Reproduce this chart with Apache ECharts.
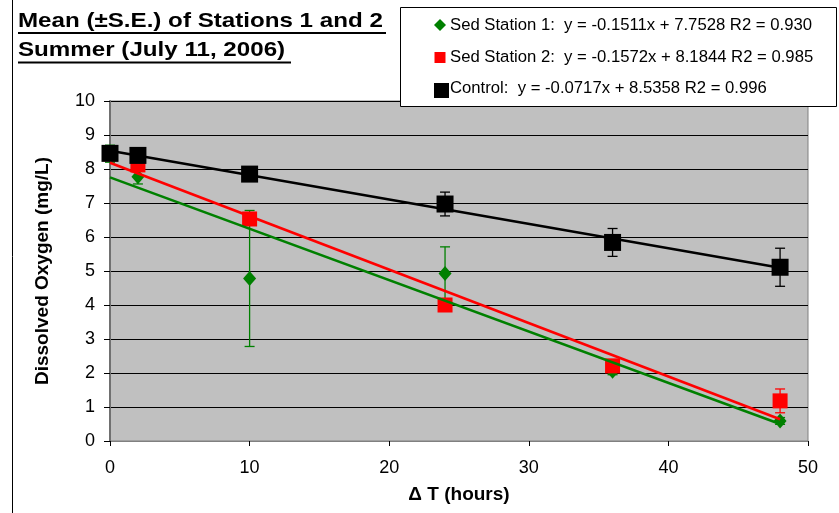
<!DOCTYPE html>
<html>
<head>
<meta charset="utf-8">
<script src="https://cdn.jsdelivr.net/npm/echarts@6/dist/echarts.min.js"></script>
<style>
  html, body { margin: 0; padding: 0; background: #fff; }
  #chart { width: 839px; height: 513px; }
</style>
</head>
<body>
<div id="chart"></div>
<script>
// Sampling times (hours after start)
const hours = [0, 2, 10, 24, 36, 48];

// Dissolved oxygen means (mg/L) and standard errors
const station1Mean = [8.45, 7.77, 4.78, 4.93, 2.05, 0.59];
const station1SE   = [0.25, 0.21, 2.00, 0.78, 0.10, 0.10];
const station2Mean = [8.45, 8.12, 6.53, 4.00, 2.21, 1.18];
const station2SE   = [0.10, 0.10, 0.15, 0.15, 0.10, 0.35];
const controlMean  = [8.46, 8.40, 7.85, 6.97, 5.84, 5.11];
const controlSE    = [0.05, 0.10, 0.10, 0.35, 0.41, 0.56];

// Linear fits: y = slope * x + intercept
const seriesNames    = ['Sed Station 1', 'Sed Station 2', 'Control'];
const fitSlope       = [-0.1511, -0.1572, -0.0717];
const fitIntercept   = [7.7528, 8.1844, 8.5358];
const fitR2          = ['0.930', '0.985', '0.996'];
const fitRange       = [0, 48];

// Axis ticks
const xTicks = { min: 0, max: 50, step: 10 };
const yTicks = { min: 0, max: 10, step: 1 };

const titleLines = ['Mean (\u00B1S.E.) of Stations 1 and 2', 'Summer (July 11, 2006)'];

const FONT = '"Liberation Sans", Arial, sans-serif';
const colors = ['#008000', '#FF0000', '#000000'];

function errorBars(means, se, color) {
  return {
    type: 'custom',
    silent: true,
    data: hours.map((h, i) => [h, means[i] - se[i], means[i] + se[i]]),
    encode: { x: 0, y: [1, 2] },
    renderItem(params, api) {
      const x = api.value(0);
      const lo = api.coord([x, api.value(1)]);
      const hi = api.coord([x, api.value(2)]);
      const w = 5;
      const st = { stroke: color, lineWidth: 1.3 };
      return {
        type: 'group',
        children: [
          { type: 'line', shape: { x1: lo[0], y1: lo[1], x2: hi[0], y2: hi[1] }, style: st },
          { type: 'line', shape: { x1: lo[0] - w, y1: lo[1], x2: lo[0] + w, y2: lo[1] }, style: st },
          { type: 'line', shape: { x1: hi[0] - w, y1: hi[1], x2: hi[0] + w, y2: hi[1] }, style: st }
        ]
      };
    }
  };
}

function markers(name, means, symbol, size, color) {
  return {
    type: 'scatter',
    name: name,
    symbol: symbol,
    symbolSize: size,
    itemStyle: { color: color, opacity: 1 },
    data: hours.map((h, i) => [h, means[i]]),
    silent: true
  };
}

function fitLine(k) {
  return {
    type: 'line',
    symbol: 'none',
    silent: true,
    lineStyle: { color: colors[k], width: 2.6 },
    data: fitRange.map(x => [x, fitSlope[k] * x + fitIntercept[k]])
  };
}

function legendText(k) {
  const m = fitSlope[k].toFixed(4);
  const b = fitIntercept[k].toFixed(4);
  return seriesNames[k] + ':  y = ' + m + 'x + ' + b + ' R2 = ' + fitR2[k];
}

const chart = echarts.init(document.getElementById('chart'), null, { renderer: 'canvas' });

chart.setOption({
  animation: false,
  backgroundColor: '#ffffff',
  grid: {
    left: 110, right: 31, top: 101, bottom: 72,
    show: true, backgroundColor: '#C0C0C0', borderColor: '#808080', borderWidth: 1
  },
  xAxis: {
    type: 'value',
    min: xTicks.min, max: xTicks.max, interval: xTicks.step,
    axisLine: { show: true, onZero: false, lineStyle: { color: '#808080', width: 1 } },
    axisTick: { show: true, length: 5, lineStyle: { color: '#000' } },
    axisLabel: { color: '#000', fontSize: 18, fontFamily: FONT, margin: 18 },
    splitLine: { show: false },
    name: '\u0394 T (hours)',
    nameLocation: 'middle',
    nameGap: 44,
    nameTextStyle: { color: '#000', fontSize: 19, fontWeight: 'bold', fontFamily: FONT }
  },
  yAxis: {
    type: 'value',
    min: yTicks.min, max: yTicks.max, interval: yTicks.step,
    axisLine: { show: true, lineStyle: { color: '#707070', width: 2 } },
    axisTick: { show: true, length: 6, lineStyle: { color: '#000' } },
    axisLabel: { color: '#000', fontSize: 18, fontFamily: FONT, margin: 15 },
    splitLine: { show: true, lineStyle: { color: '#000', width: 1 } },
    name: 'Dissolved Oxygen (mg/L)',
    nameLocation: 'middle',
    nameGap: 58,
    nameTextStyle: { color: '#000', fontSize: 19, fontWeight: 'bold', fontFamily: FONT }
  },
  series: [
    errorBars(station1Mean, station1SE, colors[0]),
    markers(seriesNames[0], station1Mean, 'diamond', [13, 15], colors[0]),
    errorBars(station2Mean, station2SE, colors[1]),
    markers(seriesNames[1], station2Mean, 'rect', 15, colors[1]),
    errorBars(controlMean, controlSE, colors[2]),
    markers(seriesNames[2], controlMean, 'rect', 17, colors[2]),
    fitLine(1),
    fitLine(0),
    fitLine(2)
  ],
  graphic: [
    // outer frame edge
    { type: 'line', shape: { x1: 12.5, y1: 0, x2: 12.5, y2: 513 }, style: { stroke: '#000', lineWidth: 1 } },
    // title
    { type: 'text', x: 18, y: 21, scaleX: 1.15,
      style: { text: titleLines[0], font: 'bold 21px ' + FONT, fill: '#000', textVerticalAlign: 'middle' } },
    { type: 'line', shape: { x1: 18, y1: 33, x2: 386, y2: 33 }, style: { stroke: '#000', lineWidth: 2 } },
    { type: 'text', x: 18, y: 50, scaleX: 1.15,
      style: { text: titleLines[1], font: 'bold 21px ' + FONT, fill: '#000', textVerticalAlign: 'middle' } },
    { type: 'line', shape: { x1: 18, y1: 62.5, x2: 291, y2: 62.5 }, style: { stroke: '#000', lineWidth: 2 } },
    // legend box
    { type: 'rect', z: 100, shape: { x: 400.5, y: 7.5, width: 436, height: 99 },
      style: { fill: '#fff', stroke: '#000', lineWidth: 1 } },
    { type: 'polygon', z: 101, shape: { points: [[440, 19], [446, 25], [440, 31], [434, 25]] },
      style: { fill: colors[0] } },
    { type: 'text', z: 101, x: 450, y: 25,
      style: { text: legendText(0), font: '16.7px ' + FONT, fill: '#000', textVerticalAlign: 'middle' } },
    { type: 'rect', z: 101, shape: { x: 434.5, y: 52, width: 11, height: 11 }, style: { fill: colors[1] } },
    { type: 'text', z: 101, x: 450, y: 57,
      style: { text: legendText(1), font: '16.7px ' + FONT, fill: '#000', textVerticalAlign: 'middle' } },
    { type: 'rect', z: 101, shape: { x: 434, y: 83, width: 15, height: 15 }, style: { fill: colors[2] } },
    { type: 'text', z: 101, x: 450, y: 88,
      style: { text: legendText(2), font: '16.7px ' + FONT, fill: '#000', textVerticalAlign: 'middle' } }
  ]
});
</script>
</body>
</html>
